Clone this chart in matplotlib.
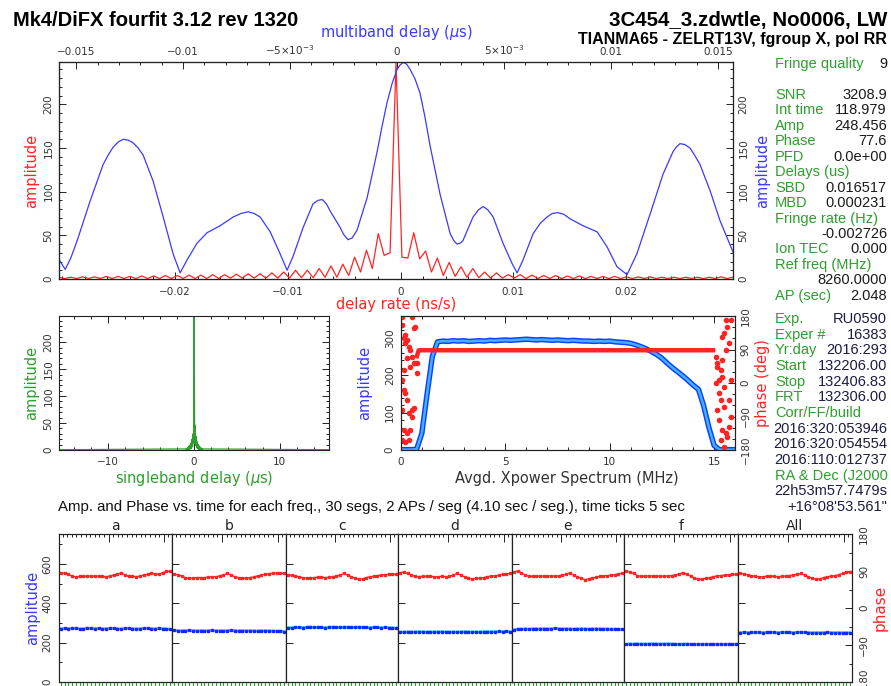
import numpy as np
import matplotlib
matplotlib.use('Agg')
import matplotlib.pyplot as plt
from matplotlib.ticker import MultipleLocator, FixedLocator, FixedFormatter, FuncFormatter, NullFormatter

# ---------------- fringe summary data ----------------
# delay-rate spectrum (red), amplitude on a regular rate grid
rate_amp = [2, .5, 2, .5, 2.5, .5, 2.5, .5, 3, .5, 3, .5, 3, .5, 3.5, .5, 3.5, .5, 4, .5,
            4, .5, 4.5, .5, 4.5, .5, 5, .5, 5, 1, 5.5, 1, 6, 1, 6, 1, 7, 1, 8, 1,
            10, 1.5, 10, 1.5, 12, 2, 15, 2, 17, 4, 25, 8, 33, 12, 52, 27, 30,
            248.5,
            25, 24, 53, 23, 32, 8, 24, 4, 19, 3, 14, 2, 12, 1.5, 8, 1, 7, 1, 5, 1,
            5, .5, 4.5, .5, 4, .5, 4, .5, 3.5, .5, 3.5, .5, 3, .5, 3, .5, 3, .5, 2.5, .5,
            2.5, .5, 2.5, .5, 2, .5, 2, .5, 2, .5, 2, .5, 2, .5, 2.5, .5, 2]
rate_lo, rate_hi = -0.0303, 0.0295

# multiband delay function (blue), delay in 1e-3 us
mbd_delay = [-15.79, -15.51, -15.25, -14.95, -14.35, -13.74, -13.50, -13.27, -13.03, -12.80,
             -12.57, -12.34, -12.10, -11.87, -11.40, -10.93, -10.47, -10.14, -9.81, -9.35,
             -8.88, -8.27, -7.66, -7.30, -6.96, -6.68, -6.40, -5.93, -5.47, -5.14,
             -4.86, -4.39, -3.93, -3.70, -3.50, -3.30, -3.13, -2.66, -2.50, -2.29,
             -2.10, -1.87, -1.40, -0.93, -0.70, -0.47, -0.23, 0.00, 0.14, 0.28,
             0.45, 0.61, 0.84, 1.07, 1.30, 1.54, 2.01, 2.48, 2.65, 2.80,
             2.95, 3.08, 3.55, 3.80, 4.02, 4.25, 4.49, 4.95, 5.37, 5.61,
             5.89, 6.36, 6.70, 7.01, 7.25, 7.52, 7.80, 8.08, 8.69, 9.35,
             9.81, 10.28, 10.75, 11.21, 11.82, 12.43, 12.90, 13.05, 13.22, 13.45,
             13.69, 13.90, 14.16, 14.63, 15.09, 15.70]
mbd_amp = [22, 11, 24, 44, 89, 131, 142, 151, 157, 160,
           159, 156, 150, 142, 112, 71, 29, 7, 22, 41,
           53, 61, 71, 75, 77, 75, 71, 54, 29, 10,
           26, 59, 86, 90, 91, 86, 78, 59, 51, 45,
           47, 56, 93, 146, 175, 202, 224, 240, 245, 248,
           246, 240, 229, 213, 186, 153, 97, 52, 44, 40,
           41, 44, 71, 79, 83, 79, 71, 41, 18, 7,
           22, 52, 64, 71, 75, 76, 74, 69, 61, 54,
           37, 14, 5, 29, 74, 120, 146, 151, 155, 154,
           150, 142, 131, 101, 67, 31]

# singleband delay function (green), lags around the peak
sbd_amp = [2, .5, 3, .5, 5, 1, 7, 1, 9, 2, 13, 3, 20, 6, 30, 12,
           248, 14, 46, 8, 25, 4, 15, 2, 10, 1, 7, 1, 5, .5, 3, .5, 2]
sbd_peak = 0.0165
sbd_step = 0.0625
sbd_floor = 0.5

# averaged cross-power spectrum, 0.25 MHz steps
spec_amp = [1, 1, 1, 2, 45, 150, 250, 289, 291, 290,
            292, 291, 292, 290, 291, 292, 291, 293, 292, 293,
            294, 293, 294, 295, 296, 295, 294, 295, 294, 293,
            294, 293, 292, 293, 292, 291, 291, 290, 291, 290,
            291, 289, 288, 287, 285, 281, 276, 270, 263, 255,
            245, 232, 220, 209, 198, 186, 173, 162, 118, 60,
            12, 1, 1, 1, 1]
band_mhz = [0.76, 0.85, 14.95]
band_phase = [72, 88, 88]
edge_mhz = [0.05, 0.52, 0.05, 0.13, 0.21, 0.29, 0.37, 0.45, 0.52, 0.60, 0.45, 0.13, 0.05,
            0.13, 0.21, 0.29, 0.05, 0.37, 0.52, 0.60, 0.13, 0.29, 0.45, 0.05, 0.21, 0.37,
            0.52, 0.76, 0.76, 0.68, 0.60, 0.21, 0.29,
            15.08, 15.16, 15.24, 15.32, 15.40, 15.56, 15.64, 15.48, 15.72, 15.40, 15.24,
            15.32, 15.48, 15.72, 15.16, 15.24, 15.40, 15.56, 15.72, 15.32, 15.48, 15.64,
            15.79, 15.08, 15.79, 15.79, 15.56, 15.16, 15.36, 15.48]
edge_phase = [178, 178, 156, 120, 107, 116, 98, 89, 71, 53, 44, 35, 8,
              -19, -28, -46, -72, -81, -72, -68, -126, -135, -126, -153, -158, -153,
              -90, 53, 26, 151, 147, 129, 66,
              71, 44, 8, 35, 17, 169, 151, 133, 107, 124, -28,
              -46, -64, -46, -72, -99, -126, -135, -117, -153, -171, -144,
              -90, -1, 8, 169, 89, 53, 62, -10]

# amplitude and phase per segment for each channel
chan_names = ['a', 'b', 'c', 'd', 'e', 'f', 'All']
amp_a = [270, 272, 271, 273, 272, 270, 271, 273, 272, 271, 272, 270, 271, 273, 272,
         271, 270, 272, 273, 271, 270, 271, 272, 273, 271, 270, 272, 271, 270, 268]
amp_b = [262, 261, 260, 261, 262, 261, 260, 261, 260, 261, 262, 261, 260, 260, 261,
         262, 261, 260, 261, 260, 261, 260, 259, 260, 261, 260, 259, 258, 259, 256]
amp_c = [275, 276, 278, 277, 276, 278, 279, 277, 278, 277, 276, 278, 279, 278, 277,
         279, 278, 277, 278, 279, 278, 277, 276, 278, 277, 276, 277, 276, 275, 274]
amp_d = [253, 254, 255, 254, 255, 256, 255, 254, 255, 254, 255, 256, 255, 254, 255,
         254, 255, 256, 255, 254, 255, 254, 255, 256, 255, 256, 257, 256, 257, 255]
amp_e = [265, 268, 269, 270, 269, 270, 271, 270, 271, 270, 271, 272, 271, 270, 271,
         270, 269, 270, 271, 270, 269, 270, 271, 270, 269, 270, 268, 269, 268, 267]
amp_f = [191, 193, 192, 194, 193, 192, 193, 194, 193, 192, 193, 194, 193, 192, 191,
         192, 193, 192, 191, 192, 191, 192, 191, 192, 191, 192, 191, 192, 191, 192]
amp_all = [251, 252, 251, 252, 253, 252, 251, 252, 253, 252, 251, 252, 253, 252, 251,
           252, 253, 252, 251, 250, 251, 250, 251, 252, 251, 250, 251, 250, 251, 250]
ph_a = [84, 85, 82, 77, 76, 77, 77, 77, 78, 77, 78, 77, 76, 78, 80,
        82, 86, 80, 77, 77, 76, 78, 80, 82, 84, 83, 82, 86, 89, 89]
ph_b = [82, 81, 78, 74, 72, 73, 74, 74, 74, 75, 76, 76, 78, 80, 84,
        80, 76, 74, 72, 73, 74, 76, 78, 80, 82, 83, 85, 85, 84, 84]
ph_c = [80, 80, 78, 76, 74, 73, 74, 74, 75, 75, 74, 75, 76, 78, 80,
        84, 80, 76, 72, 70, 71, 74, 76, 77, 79, 80, 81, 82, 82, 82]
ph_d = [86, 87, 84, 80, 77, 76, 77, 77, 77, 76, 76, 77, 76, 77, 80,
        84, 80, 76, 73, 71, 72, 73, 74, 76, 78, 78, 80, 82, 83, 84]
ph_e = [88, 90, 86, 80, 77, 77, 78, 77, 78, 78, 78, 77, 78, 80, 82,
        86, 80, 76, 72, 69, 71, 73, 75, 77, 78, 79, 80, 81, 83, 85]
ph_f = [89, 88, 84, 79, 77, 77, 78, 78, 77, 78, 77, 78, 79, 80, 83,
        86, 82, 77, 73, 70, 70, 72, 74, 76, 78, 79, 80, 81, 82, 82]
ph_all = [84, 83, 81, 79, 77, 76, 76, 77, 77, 77, 76, 77, 78, 79, 80,
          82, 84, 80, 76, 72, 70, 71, 74, 76, 77, 79, 81, 84, 87, 88]
seg_len = 4.10      # sec per segment
start_sec = 6       # 13:22:06

info_main = [('Fringe quality', '9'), ('', ''),
             ('SNR', '3208.9'), ('Int time', '118.979'), ('Amp', '248.456'),
             ('Phase', '77.6'), ('PFD', '0.0e+00'), ('Delays (us)', ''),
             ('SBD', '0.016517'), ('MBD', '0.000231'), ('Fringe rate (Hz)', ''),
             ('', '-0.002726'), ('Ion TEC', '0.000'), ('Ref freq (MHz)', ''),
             ('', '8260.0000'), ('AP (sec)', '2.048')]
info_exp = [('Exp.', 'RU0590'), ('Exper #', '16383'), ('Yr:day', '2016:293'),
            ('Start', '132206.00'), ('Stop', '132406.83'), ('FRT', '132306.00'),
            ('Corr/FF/build', ''), ('', '2016:320:053946'), ('', '2016:320:054554'),
            ('', '2016:110:012737'), ('RA & Dec (J2000', ''), ('', '22h53m57.7479s'),
            ('', '+16\u00b008\'53.561"')]

# ---------------- drawing ----------------
RED = '#ff2424'
BLUE = '#3a3aff'
GREEN = '#2ca02c'
INK = '#333333'
W, H = 891, 686

plt.rcParams['font.family'] = 'DejaVu Sans'
fig = plt.figure(figsize=(W / 100, H / 100), dpi=100)


def box(x0, y0, x1, y1):
    return [x0 / W, 1 - y1 / H, (x1 - x0) / W, (y1 - y0) / H]


def num(v, pos):
    v = round(v, 9)
    if v == 0:
        return '0'
    return ('%g' % v).replace('-', '\u2212')


def pg(ax):
    ax.tick_params(which='both', direction='in', labelsize=7.5, labelcolor=INK,
                   color='#222222', width=0.7)
    ax.tick_params(which='major', length=5)
    ax.tick_params(which='minor', length=2.5)
    for s in ax.spines.values():
        s.set_linewidth(0.8)
        s.set_color('#222222')


def rot_y(ax):
    for t in ax.yaxis.get_major_ticks():
        t.label1.set_rotation(90)
        t.label2.set_rotation(90)
        t.label1.set_va('center')
        t.label2.set_va('center')


def label(x, y, s, color, rot=0, size=10.5, **kw):
    fig.text(x / W, 1 - y / H, s, color=color, rotation=rot, ha='center', va='center',
             fontsize=size, **kw)


# header
fig.text(13 / W, 1 - 26 / H, 'Mk4/DiFX fourfit 3.12 rev 1320', family='Liberation Sans',
         fontweight='bold', fontsize=14.5, va='baseline')
fig.text(887 / W, 1 - 26 / H, '3C454_3.zdwtle, No0006, LW', family='Liberation Sans',
         fontweight='bold', fontsize=14.8, ha='right', va='baseline')
fig.text(887 / W, 1 - 44 / H, 'TIANMA65 - ZELRT13V, fgroup X, pol RR', family='Liberation Sans',
         fontweight='bold', fontsize=11.5, ha='right', va='baseline')

# --- delay rate & multiband delay ---
ax = fig.add_axes(box(59, 62, 733, 279))
rate_x = np.linspace(rate_lo, rate_hi, len(rate_amp))
ax.plot(rate_x, rate_amp, color=RED, lw=0.9)
ax.set_xlim(rate_lo, rate_hi)
ax.set_ylim(0, 248.5)
ax.xaxis.set_major_locator(FixedLocator([-0.02, -0.01, 0, 0.01, 0.02]))
ax.xaxis.set_minor_locator(MultipleLocator(0.002))
ax.xaxis.set_major_formatter(FuncFormatter(num))
ax.yaxis.set_major_locator(MultipleLocator(50))
ax.yaxis.set_minor_locator(MultipleLocator(10))
pg(ax)
ax.tick_params(axis='x', which='both', top=False, pad=5.5)
ax.tick_params(axis='y', which='both', right=False, pad=4)
rot_y(ax)

axr = ax.twinx()
axr.set_ylim(0, 248.5)
axr.yaxis.set_major_locator(MultipleLocator(50))
axr.yaxis.set_minor_locator(MultipleLocator(10))
pg(axr)
axr.tick_params(axis='y', which='both', left=False, pad=4)
rot_y(axr)

axm = ax.twiny()
axm.plot(np.array(mbd_delay) * 1e-3, mbd_amp, color=BLUE, lw=0.9)
axm.set_xlim(-0.0158, 0.0157)
axm.xaxis.set_major_locator(FixedLocator([-0.015, -0.01, -0.005, 0, 0.005, 0.01, 0.015]))
axm.xaxis.set_major_formatter(FixedFormatter(['\u22120.015', '\u22120.01', r'$-5{\times}10^{-3}$',
                                              '0', r'$5{\times}10^{-3}$', '0.01', '0.015']))
axm.xaxis.set_minor_locator(MultipleLocator(0.001))
pg(axm)
axm.tick_params(axis='x', which='both', bottom=False, pad=3.5)

label(32, 171, 'amplitude', RED, rot=90)
label(763, 171, 'amplitude', BLUE, rot=90)
label(396, 305, 'delay rate (ns/s)', RED)
label(396, 33, 'multiband delay ($\\mu$s)', BLUE)

# --- singleband delay ---
ax = fig.add_axes(box(59, 316, 329, 450))
core_x = sbd_peak + (np.arange(len(sbd_amp)) - len(sbd_amp) // 2) * sbd_step
sbd_x = np.concatenate([[-15.75], core_x, [15.75]])
sbd_y = [sbd_floor] + sbd_amp + [sbd_floor]
ax.plot(sbd_x, sbd_y, color=GREEN, lw=0.9)
ax.set_xlim(-15.75, 15.75)
ax.set_ylim(0, 248.5)
ax.xaxis.set_major_locator(MultipleLocator(10))
ax.xaxis.set_minor_locator(MultipleLocator(2))
ax.xaxis.set_major_formatter(FuncFormatter(num))
ax.yaxis.set_major_locator(MultipleLocator(50))
ax.yaxis.set_minor_locator(MultipleLocator(10))
pg(ax)
ax.tick_params(which='both', top=True, right=True)
ax.tick_params(axis='x', pad=5)
ax.tick_params(axis='y', pad=4)
rot_y(ax)
label(32, 383, 'amplitude', GREEN, rot=90)
label(194, 478, 'singleband delay ($\\mu$s)', GREEN)

# --- cross power spectrum ---
ax = fig.add_axes(box(401, 316, 735, 450))
spec_mhz = np.arange(len(spec_amp)) * 0.25
ax.plot(spec_mhz, spec_amp, color='#0a40ff', lw=3.9, solid_joinstyle='round')
ax.plot(spec_mhz, spec_amp, color='#45b0ff', lw=1.8, solid_joinstyle='round')
ax.set_xlim(0, 16)
ax.set_ylim(0, 358)
ax.xaxis.set_major_locator(MultipleLocator(5))
ax.xaxis.set_minor_locator(MultipleLocator(1))
ax.yaxis.set_major_locator(MultipleLocator(100))
ax.yaxis.set_minor_locator(MultipleLocator(20))
pg(ax)
ax.tick_params(which='both', top=True)
ax.tick_params(axis='x', pad=5)
ax.tick_params(axis='y', pad=4.5)
rot_y(ax)

axp = ax.twinx()
axp.plot(band_mhz, band_phase, color=RED, lw=3.2)
axp.plot(edge_mhz, edge_phase, ls='none', marker='o', ms=3, color=RED, mec=RED)
axp.set_ylim(-180, 180)
axp.yaxis.set_major_locator(MultipleLocator(90))
axp.yaxis.set_minor_locator(MultipleLocator(30))
axp.yaxis.set_major_formatter(FuncFormatter(num))
pg(axp)
axp.tick_params(axis='y', pad=4)
rot_y(axp)
label(365, 383, 'amplitude', BLUE, rot=90)
label(763, 383, 'phase (deg)', RED, rot=90)
label(567, 478, 'Avgd. Xpower Spectrum (MHz)', INK)

# --- info column ---
info_font = dict(family='Liberation Sans', fontsize=10.5, va='center')
for i, (name, val) in enumerate(info_main):
    y = 1 - (64 + i * 15.45) / H
    if name:
        fig.text(775 / W, y, name, color=GREEN, **info_font)
    if val:
        fig.text(887 / W, y, val, color='#1a1a1a', ha='right', **info_font)
for i, (name, val) in enumerate(info_exp):
    y = 1 - (319 + i * 15.67) / H
    if name:
        fig.text(775 / W, y, name, color=GREEN, **info_font)
    if val:
        fig.text(887 / W, y, val, color='#1c1c44', ha='right', **info_font)

# --- amplitude / phase vs time per channel ---
fig.text(58 / W, 1 - 507 / H,
         'Amp. and Phase vs. time for each freq., 30 segs, 2 APs / seg (4.10 sec / seg.), time ticks 5 sec',
         family='Liberation Sans', fontsize=10.8, va='center', color='#111111')
chan_amp = [amp_a, amp_b, amp_c, amp_d, amp_e, amp_f, amp_all]
chan_ph = [ph_a, ph_b, ph_c, ph_d, ph_e, ph_f, ph_all]
edges = [59, 172, 286, 398, 512, 624, 738, 852]
t_end = len(amp_a) * seg_len
seg_t = (np.arange(len(amp_a)) + 0.5) * seg_len
minute_ticks = np.arange(60 - start_sec, t_end, 60)
sec_ticks = np.arange((5 - start_sec) % 5, t_end, 5)
for i, name in enumerate(chan_names):
    ax = fig.add_axes(box(edges[i], 534, edges[i + 1], 682))
    ax.plot(seg_t, chan_amp[i], color='#35c6ff', lw=2.0)
    ax.plot(seg_t, chan_amp[i], ls='none', marker='s', ms=1.6, color='#1028ff')
    ax.vlines(seg_t, -40, 0, color='#22aa22', lw=0.8, clip_on=False)
    ax.set_xlim(0, t_end)
    ax.set_ylim(0, 752)
    pg(ax)
    ax.xaxis.set_ticks_position('top')
    ax.xaxis.set_major_locator(FixedLocator(minute_ticks))
    ax.xaxis.set_minor_locator(FixedLocator(sec_ticks))
    ax.xaxis.set_major_formatter(NullFormatter())
    ax.tick_params(axis='x', which='major', length=6)
    ax.set_title(name, fontsize=10, color='#222222', pad=3)
    if i == 0:
        ax.yaxis.set_major_locator(MultipleLocator(200))
        ax.yaxis.set_minor_locator(MultipleLocator(100))
        ax.yaxis.set_major_formatter(FuncFormatter(num))
        ax.tick_params(axis='y', which='both', right=False, pad=5)
        rot_y(ax)
    else:
        ax.tick_params(axis='y', which='both', left=False, labelleft=False)

    axp = ax.twinx()
    axp.plot(seg_t, chan_ph[i], color=RED, lw=0.9, marker='s', ms=1.8, mec=RED)
    axp.set_ylim(-180, 180)
    pg(axp)
    if i == len(chan_names) - 1:
        axp.yaxis.set_major_locator(MultipleLocator(90))
        axp.yaxis.set_minor_locator(MultipleLocator(45))
        axp.yaxis.set_major_formatter(FuncFormatter(num))
        axp.tick_params(axis='y', pad=5)
        rot_y(axp)
    else:
        axp.tick_params(axis='y', which='both', right=False, labelright=False)

label(33, 608, 'amplitude', BLUE, rot=90)
label(880, 608, 'phase', RED, rot=90, size=11)

fig.savefig('out.png', dpi=100)
